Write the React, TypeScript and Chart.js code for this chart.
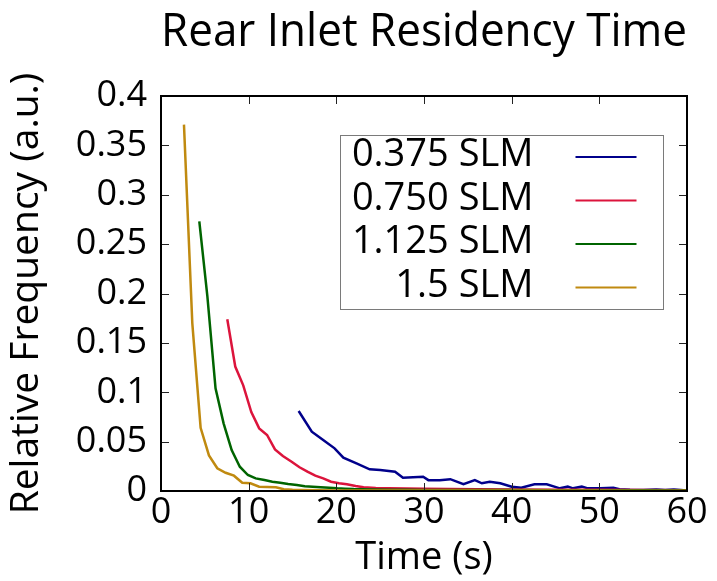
import React, { useEffect, useRef } from "react";
import { Chart, registerables } from "chart.js";

Chart.register(...registerables);

const chartTitle = "Rear Inlet Residency Time";
const xAxisTitle = "Time (s)";
const yAxisTitle = "Relative Frequency (a.u.)";

const seriesLabels = ["0.375 SLM", "0.750 SLM", "1.125 SLM", "1.5 SLM"];
const seriesColors = ["#00008b", "#dc143c", "#006400", "#c08a10"];

const xTickValues = [0, 10, 20, 30, 40, 50, 60];
const xTickLabels = ["0", "10", "20", "30", "40", "50", "60"];
const yTickValues = [0, 0.05, 0.1, 0.15, 0.2, 0.25, 0.3, 0.35, 0.4];
const yTickLabels = ["0", "0.05", "0.1", "0.15", "0.2", "0.25", "0.3", "0.35", "0.4"];

// 0.375 SLM
const blueX = [15.7, 17.2, 18.5, 19.8, 20.8, 22.3, 23.8, 25.0, 26.7, 27.6, 29.9, 30.5, 31.8, 33.0, 34.5, 35.8, 36.6, 37.5, 38.7, 40.0, 41.1, 42.6, 44.0, 45.5, 46.4, 47.0, 48.0, 48.7, 50.1, 51.6, 52.3, 53.5, 55.0, 56.5, 57.5, 58.5, 60.0];
const blueY = [0.081, 0.06, 0.0516, 0.0432, 0.0337, 0.028, 0.022, 0.0212, 0.0196, 0.0135, 0.0145, 0.011, 0.011, 0.012, 0.0068, 0.011, 0.0078, 0.0094, 0.0078, 0.0044, 0.0034, 0.0068, 0.0068, 0.0027, 0.0044, 0.0027, 0.0044, 0.0027, 0.0027, 0.0034, 0.0017, 0.0012, 0.001, 0.0015, 0.001, 0.0015, 0.0005];

// 0.750 SLM
const redX = [7.56, 8.47, 9.38, 10.3, 11.2, 12.1, 13.0, 13.9, 14.9, 15.8, 16.7, 17.6, 18.5, 19.4, 20.3, 21.2, 22.2, 23.1, 24.5, 26.0, 28.0, 30.0, 33.0, 36.0, 40.0, 45.0, 50.0, 55.0, 60.0];
const redY = [0.174, 0.126, 0.107, 0.08, 0.0634, 0.0567, 0.0422, 0.0354, 0.0297, 0.024, 0.0196, 0.0155, 0.0128, 0.0094, 0.0078, 0.0068, 0.005, 0.0038, 0.003, 0.0027, 0.0025, 0.0022, 0.002, 0.0018, 0.0015, 0.0013, 0.0012, 0.001, 0.0008];

// 1.125 SLM
const greenX = [4.37, 5.29, 6.22, 7.14, 8.06, 8.99, 9.91, 10.8, 11.8, 12.7, 13.6, 14.5, 15.5, 16.4, 17.3, 18.2, 19.2, 20.1, 21.0, 22.0, 24.0, 26.0, 28.0, 30.0, 35.0, 40.0, 45.0, 50.0, 55.0, 60.0];
const greenY = [0.273, 0.197, 0.104, 0.0685, 0.0415, 0.0246, 0.0162, 0.0128, 0.0111, 0.0094, 0.0084, 0.0071, 0.006, 0.0048, 0.0042, 0.0037, 0.0032, 0.0027, 0.0024, 0.002, 0.0016, 0.0013, 0.0012, 0.0011, 0.001, 0.0009, 0.0008, 0.0008, 0.0007, 0.0006];

// 1.5 SLM
const goldX = [2.62, 3.57, 4.52, 5.47, 6.42, 7.37, 8.32, 9.27, 10.2, 11.2, 12.1, 13.1, 14.0, 15.0, 16.0, 18.0, 20.0, 25.0, 30.0, 35.0, 40.0, 45.0, 50.0, 55.0, 60.0];
const goldY = [0.371, 0.17, 0.064, 0.036, 0.023, 0.0185, 0.0155, 0.0084, 0.0078, 0.0044, 0.004, 0.0037, 0.0017, 0.0012, 0.001, 0.0008, 0.0006, 0.0005, 0.0005, 0.0004, 0.0004, 0.0004, 0.0004, 0.0003, 0.0003];

const seriesX = [blueX, redX, greenX, goldX];
const seriesY = [blueY, redY, greenY, goldY];

const FONT = "'Open Sans', 'DejaVu Sans', sans-serif";

const framePlugin = {
  id: "frameTicks",
  afterDatasetsDraw(chart: any) {
    const { ctx, chartArea: a, scales } = chart;
    const len = 8;
    ctx.save();
    ctx.strokeStyle = "#222";
    ctx.lineWidth = 1;
    ctx.beginPath();
    scales.x.ticks.forEach((t: any) => {
      const px = Math.round(scales.x.getPixelForValue(t.value)) + 0.5;
      ctx.moveTo(px, a.bottom);
      ctx.lineTo(px, a.bottom - len);
      ctx.moveTo(px, a.top);
      ctx.lineTo(px, a.top + len);
    });
    scales.y.ticks.forEach((t: any) => {
      const py = Math.round(scales.y.getPixelForValue(t.value)) + 0.5;
      ctx.moveTo(a.left, py);
      ctx.lineTo(a.left + len, py);
      ctx.moveTo(a.right, py);
      ctx.lineTo(a.right - len, py);
    });
    ctx.stroke();
    ctx.strokeStyle = "#000";
    ctx.lineWidth = 2;
    ctx.strokeRect(a.left, a.top, a.right - a.left, a.bottom - a.top);
    ctx.restore();
  },
};

const boxLegendPlugin = {
  id: "boxLegend",
  afterDraw(chart: any) {
    const { ctx, chartArea: a } = chart;
    const left = Math.round(a.left + 179) + 0.5;
    const top = Math.round(a.top + 39) + 0.5;
    const w = 323;
    const h = 174;
    ctx.save();
    ctx.fillStyle = "#fff";
    ctx.fillRect(left, top, w, h);
    ctx.strokeStyle = "#7a7a7a";
    ctx.lineWidth = 1;
    ctx.strokeRect(left, top, w, h);
    ctx.font = `38px ${FONT}`;
    ctx.textAlign = "right";
    ctx.textBaseline = "middle";
    chart.data.datasets.forEach((ds: any, i: number) => {
      const y = top + 21.5 + i * 43.5;
      ctx.fillStyle = "#000";
      ctx.fillText(ds.label, left + 193, y - 1.5);
      ctx.strokeStyle = ds.borderColor;
      ctx.lineWidth = 2.2;
      ctx.beginPath();
      ctx.moveTo(left + 235, y);
      ctx.lineTo(left + 296, y);
      ctx.stroke();
    });
    ctx.restore();
  },
};

export default function App() {
  const ref = useRef<HTMLCanvasElement>(null);
  useEffect(() => {
    if (!ref.current) return;
    const datasets = seriesLabels.map((label, i) => ({
      label,
      data: seriesX[i].map((x, j) => ({ x, y: seriesY[i][j] })),
      borderColor: seriesColors[i],
      backgroundColor: seriesColors[i],
      borderWidth: 2.5,
      pointRadius: 0,
      tension: 0,
      fill: false,
      order: 4 - i,
    }));
    const chart = new Chart(ref.current, {
      type: "line",
      data: { datasets },
      plugins: [framePlugin, boxLegendPlugin],
      options: {
        animation: false,
        responsive: false,
        maintainAspectRatio: false,
        layout: { padding: { left: 0, right: 30, top: 0, bottom: 0 } },
        plugins: {
          legend: { display: false },
          tooltip: { enabled: false },
          title: {
            display: true,
            text: chartTitle,
            fullSize: false,
            color: "#000",
            font: { family: FONT, size: 46, weight: "normal" },
            padding: { top: 5.5, bottom: 35.3 },
          },
        },
        scales: {
          x: {
            type: "linear",
            min: 0,
            max: 60,
            afterBuildTicks: (s: any) => {
              s.ticks = xTickValues.map((v) => ({ value: v }));
            },
            afterFit: (s: any) => {
              s.height = 90;
            },
            ticks: {
              color: "#000",
              font: { family: FONT, size: 36 },
              padding: 0,
              maxRotation: 0,
              callback: (_v: any, i: number) => xTickLabels[i],
            },
            grid: { display: false, drawTicks: false },
            border: { display: false },
            title: {
              display: true,
              text: xAxisTitle,
              color: "#000",
              font: { family: FONT, size: 38 },
              padding: { top: 0, bottom: 0 },
            },
          },
          y: {
            type: "linear",
            min: 0,
            max: 0.4,
            afterBuildTicks: (s: any) => {
              s.ticks = yTickValues.map((v) => ({ value: v }));
            },
            afterFit: (s: any) => {
              s.width = 161;
            },
            ticks: {
              color: "#000",
              font: { family: FONT, size: 36 },
              padding: 14,
              callback: (_v: any, i: number) => yTickLabels[i],
            },
            grid: { display: false, drawTicks: false },
            border: { display: false },
            title: {
              display: true,
              text: yAxisTitle,
              color: "#000",
              font: { family: FONT, size: 39 },
              padding: { top: 3, bottom: 0 },
            },
          },
        },
      },
    });
    return () => chart.destroy();
  }, []);
  return (
    <div style={{ position: "fixed", left: 0, top: 0, width: 717, height: 581, background: "#fff" }}>
      <canvas ref={ref} width={717} height={581} style={{ display: "block", width: 717, height: 581 }} />
    </div>
  );
}
